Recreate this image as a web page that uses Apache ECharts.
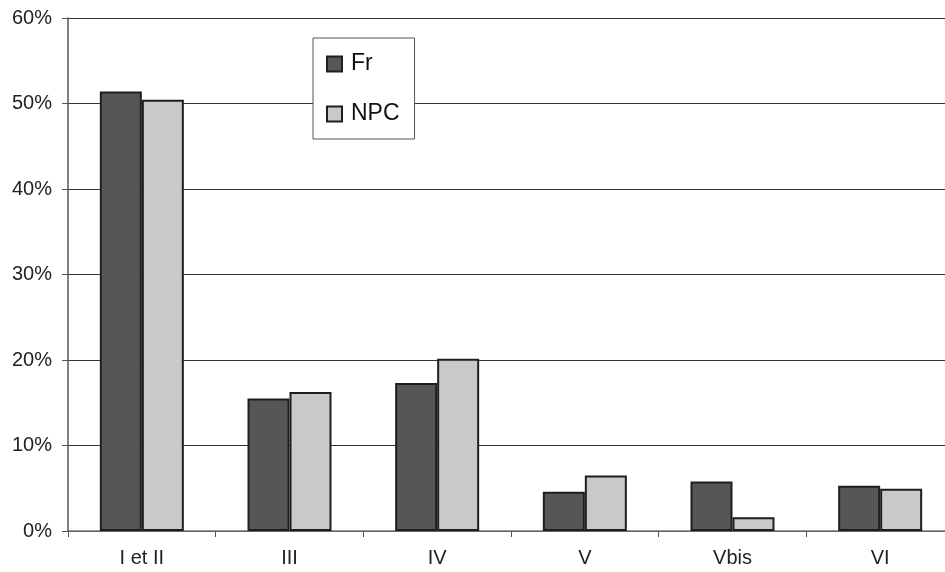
<!DOCTYPE html>
<html><head><meta charset="utf-8">
<script src="https://cdn.jsdelivr.net/npm/echarts@6/dist/echarts.min.js"></script>
<style>html,body{margin:0;padding:0;background:#fff}#c{width:945px;height:572px}</style>
</head><body><div id="c"></div>
<script>
var categories = ['I et II', 'III', 'IV', 'V', 'Vbis', 'VI'];
var frValues = [51.4, 15.5, 17.3, 4.6, 5.8, 5.3];
var npcValues = [50.45, 16.25, 20.15, 6.5, 1.6, 4.95];
var yTicks = [0, 10, 20, 30, 40, 50, 60];

var chart = echarts.init(document.getElementById('c'), null, {renderer: 'canvas'});
var font = '"Liberation Sans", Arial, sans-serif';
chart.setOption({
  animation: false,
  backgroundColor: '#fff',
  grid: {left: 68, top: 18, width: 886, height: 513, containLabel: false, outerBoundsMode: 'none'},
  legend: {
    orient: 'vertical', left: 313, top: 38,
    padding: [13, 15, 12, 13],
    borderColor: '#555', borderWidth: 1, backgroundColor: '#fff',
    itemWidth: 15, itemHeight: 15, itemGap: 24,
    icon: 'rect',
    textStyle: {fontFamily: font, fontSize: 23, color: '#111', lineHeight: 26, padding: [0,0,0,4]},
    data: ['Fr', 'NPC']
  },
  xAxis: {
    type: 'category', data: categories,
    axisLine: {lineStyle: {color: '#777', width: 1.5}},
    axisTick: {show: true, length: 6, lineStyle: {color: '#555'}, alignWithLabel: false},
    axisLabel: {fontFamily: font, fontSize: 20, color: '#222', margin: 17}
  },
  yAxis: {
    type: 'value', min: 0, max: 60, interval: 10,
    axisLine: {show: true, lineStyle: {color: '#555', width: 1.5}},
    axisTick: {show: true, length: 6, lineStyle: {color: '#555'}},
    axisLabel: {fontFamily: font, fontSize: 20, color: '#222', margin: 16,
      formatter: function(v){ return yTicks.indexOf(v) >= 0 ? v + '%' : ''; }},
    splitLine: {show: true, lineStyle: {color: '#333', width: 1}}
  },
  series: [
    {name: 'Fr', type: 'bar', data: frValues, barWidth: 42, barGap: '0%',
     itemStyle: {color: '#555657', borderColor: '#1e1e1e', borderWidth: 2}},
    {name: 'NPC', type: 'bar', data: npcValues, barWidth: 42, barGap: '0%',
     itemStyle: {color: '#c8c9ca', borderColor: '#1e1e1e', borderWidth: 2}}
  ]
});
</script></body></html>
